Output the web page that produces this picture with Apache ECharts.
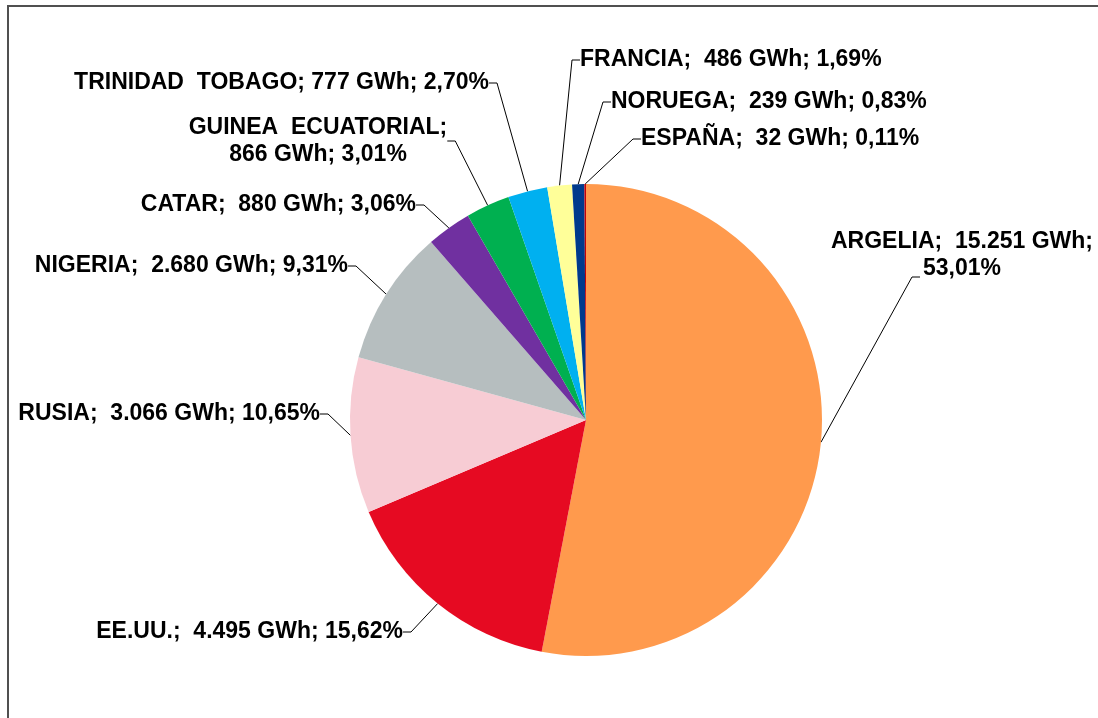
<!DOCTYPE html>
<html>
<head>
<meta charset="utf-8">
<script src="https://cdn.jsdelivr.net/npm/echarts@6/dist/echarts.min.js"></script>
<style>
html,body{margin:0;padding:0;background:#fff;}
#chart{width:1098px;height:718px;}
</style>
</head>
<body>
<div id="chart"></div>
<script>
const categories = ['ARGELIA','EE.UU.','RUSIA','NIGERIA','CATAR','GUINEA  ECUATORIAL','TRINIDAD  TOBAGO','FRANCIA','NORUEGA','ESPAÑA'];
const valuesGWh = [15251, 4495, 3066, 2680, 880, 866, 777, 486, 239, 32];
const valueLabels = ['15.251','4.495','3.066','2.680','880','866','777','486','239','32'];
const percentLabels = ['53,01%','15,62%','10,65%','9,31%','3,06%','3,01%','2,70%','1,69%','0,83%','0,11%'];
const colors = ['#FF9A4D','#E60A22','#F7CCD4','#B6BEBF','#7030A0','#00B050','#00B0F0','#FFFF99','#003A8C','#C0000A'];

// label anchor placement (layout only)
const labelPos = [
  {x:962, y:255, align:'center'},
  {x:403, y:632, align:'right'},
  {x:320, y:414, align:'right'},
  {x:348, y:266, align:'right'},
  {x:416, y:205, align:'right'},
  {x:318, y:141, align:'center'},
  {x:489, y:83, align:'right'},
  {x:580, y:60, align:'left'},
  {x:611, y:102, align:'left'},
  {x:641, y:139, align:'left'}
];
const twoLine = {0:true, 5:true};

const data = categories.map((c,i)=>({
  name:c, value:valuesGWh[i], itemStyle:{color:colors[i]}
}));

const chart = echarts.init(document.getElementById('chart'), null, {renderer:'canvas'});
chart.setOption({
  animation:false,
  backgroundColor:'#ffffff',
  graphic:[{
    type:'rect', silent:true, x:0, y:0,
    shape:{x:8, y:6, width:1200, height:800},
    style:{fill:'none', stroke:'#505050', lineWidth:2}
  }],
  series:[{
    type:'pie',
    center:[586,420],
    radius:[0,236],
    startAngle:90,
    clockwise:true,
    data:data,
    itemStyle:{borderWidth:0},
    label:{
      show:true,
      overflow:'none',
      fontFamily:'Liberation Sans, Arial, sans-serif',
      fontWeight:'bold',
      fontSize:23,
      color:'#000',
      lineHeight:27,
      formatter:function(p){
        const i=p.dataIndex;
        if(twoLine[i]){
          if(i===0) return categories[i]+';  '+valueLabels[i]+' GWh;\n'+percentLabels[i];
          return categories[i]+';\n'+valueLabels[i]+' GWh; '+percentLabels[i];
        }
        if(i===6) return categories[i]+'; '+valueLabels[i]+' GWh; '+percentLabels[i];
        return categories[i]+';  '+valueLabels[i]+' GWh; '+percentLabels[i];
      }
    },
    labelLine:{show:true, length:10, length2:8, lineStyle:{color:'#000', width:1}},
    labelLayout:function(params){
      const i=params.dataIndex;
      const p=labelPos[i];
      const o={x:p.x, y:p.y, align:p.align, verticalAlign:'middle'};
      if(i===0 && params.labelLinePoints && params.labelLinePoints[0]){
        o.labelLinePoints=[params.labelLinePoints[0],[912,277],[920,277]];
      }
      return o;
    }
  }]
});
</script>
</body>
</html>
